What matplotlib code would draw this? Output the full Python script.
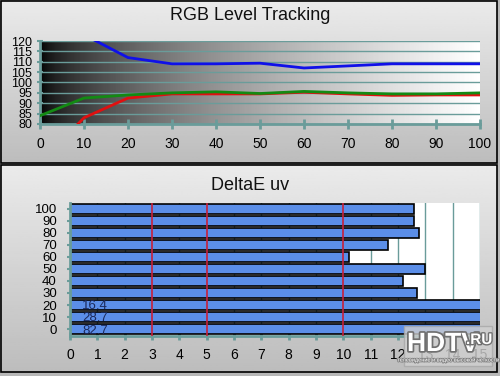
import numpy as np
import matplotlib
matplotlib.use("Agg")
import matplotlib.pyplot as plt
import matplotlib.patheffects as pe

plt.rcParams['font.family'] = ['Liberation Sans', 'DejaVu Sans']

# ---- data: RGB level tracking ----
levels = [0, 10, 20, 30, 40, 50, 60, 70, 80, 90, 100]
red = [61, 83, 92.5, 94.5, 94.5, 94.5, 95.3, 94.5, 93.8, 94.0, 94.0]
green = [84, 92.5, 94.0, 95.0, 95.5, 94.7, 95.7, 95.0, 94.5, 94.5, 95.0]
blue_x = [10, 20, 30, 40, 50, 60, 70, 80, 90, 100]
blue = [123, 112, 109, 109, 109.3, 107, 108, 109, 109, 109]

# ---- data: DeltaE uv ----
de_levels = [0, 10, 20, 30, 40, 50, 60, 70, 80, 90, 100]
de_values = [82.7, 28.7, 16.4, 12.7, 12.2, 13.0, 10.2, 11.65, 12.78, 12.6, 12.6]
de_marks = [3, 5, 10]

W, H = 500, 376
fig = plt.figure(figsize=(W / 100, H / 100), dpi=100)

# ---- panel backgrounds ----
bg = fig.add_axes([0, 0, 1, 1], zorder=-10)
bg.set_xlim(0, W)
bg.set_ylim(H, 0)
bg.axis('off')
bg.add_patch(plt.Rectangle((0, 0), W, H, facecolor='#b8b8b8', zorder=-1))
grad = np.linspace(0.92, 0.74, 100).reshape(-1, 1)
bg.imshow(grad, cmap='gray', vmin=0, vmax=1, extent=(1, 497, 163, 1), aspect='auto')
bg.imshow(grad, cmap='gray', vmin=0, vmax=1, extent=(1, 497, 372, 165), aspect='auto')
for y0, y1 in [(1, 163), (165, 372)]:
    bg.add_patch(plt.Rectangle((1, y0), 496, y1 - y0, fill=False, edgecolor='black', lw=1.2))
bg.text(250, 16, 'RGB Level Tracking', ha='center', va='center', fontsize=13, color='#111111')
bg.text(250, 185, 'DeltaE uv', ha='center', va='center', fontsize=13, color='#111111')

teal = '#6a9c9a'

# ---- top chart ----
ax1 = fig.add_axes([40 / W, 1 - 124 / H, 440 / W, 83 / H])
ramp = (np.linspace(0, 1, 256) ** 0.6).reshape(1, -1)
ax1.imshow(ramp, cmap='gray', vmin=0, vmax=1, extent=(0, 100, 80, 120), aspect='auto', zorder=0)
ax1.set_xlim(0, 100)
ax1.set_ylim(80, 120)
ax1.set_yticks(range(80, 121, 5))
ax1.set_xticks(range(0, 101, 10))
ax1.grid(axis='y', color=teal, lw=1, zorder=1)
ax1.plot(levels, red, color='#e01010', lw=2, zorder=3, solid_capstyle='butt')
ax1.plot(levels, green, color='#138a13', lw=2, zorder=4)
ax1.plot(blue_x, blue, color='#1010e8', lw=2, zorder=5)
for s in ['top', 'right']:
    ax1.spines[s].set_visible(False)
for s in ['left', 'bottom']:
    ax1.spines[s].set_color(teal)
    ax1.spines[s].set_linewidth(2)
ax1.tick_params(axis='x', direction='inout', length=7, width=2, color=teal, labelsize=10, pad=6)
ax1.tick_params(axis='y', direction='inout', length=5, width=1.5, color=teal, labelsize=9, pad=3)

# ---- bottom chart ----
ax2 = fig.add_axes([70 / W, 1 - 335.7 / H, 410 / W, 132.4 / H])
ax2.set_facecolor('white')
ax2.set_xlim(0, 15)
ax2.set_ylim(-5.5, 104.5)
ax2.set_xticks(range(0, 16))
ax2.set_yticks(de_levels)
ax2.grid(axis='x', color=teal, lw=1, zorder=0)
ax2.set_axisbelow(True)
ax2.barh(de_levels, de_values, height=8.2, color='#5b8ee8', edgecolor='black', lw=1.2, zorder=2)
for xv in de_marks:
    ax2.axvline(xv, color='#c8203a', lw=1.2, zorder=3)
for lv, v in zip(de_levels, de_values):
    if v > 15:
        ax2.text(0.45, lv - 1.2, f'{v:.1f}', ha='left', va='center', fontsize=9.5, color='#1c2a5c', zorder=4)
for s in ['top', 'right']:
    ax2.spines[s].set_visible(False)
for s in ['left', 'bottom']:
    ax2.spines[s].set_color(teal)
    ax2.spines[s].set_linewidth(2)
ax2.tick_params(axis='x', direction='inout', length=6, width=2, color=teal, labelsize=10, pad=6)
ax2.tick_params(axis='y', direction='inout', length=5, width=1.5, color=teal, labelsize=9.5, pad=7)

# ---- watermark (overlay) ----
wm = fig.add_axes([0, 0, 1, 1], zorder=20)
wm.set_xlim(0, W)
wm.set_ylim(H, 0)
wm.axis('off')
wm.add_patch(plt.Rectangle((404, 326), 88, 40, facecolor='#d0d0d0', edgecolor='#a8a8a8', alpha=0.8))
wm.text(407, 351, 'HDTV', ha='left', va='baseline', fontsize=19, fontweight='bold', color='white',
        path_effects=[pe.withStroke(linewidth=2.5, foreground='#707070')])
wm.text(466, 344, '.RU', ha='left', va='baseline', fontsize=11, fontweight='bold', color='white',
        path_effects=[pe.withStroke(linewidth=2, foreground='#707070')])
wm.text(448, 360, 'телевидение и видео высокой четкости', ha='center', va='center', fontsize=4,
        color='white', path_effects=[pe.withStroke(linewidth=1.2, foreground='#808080')])

fig.savefig('out.png', dpi=100)
